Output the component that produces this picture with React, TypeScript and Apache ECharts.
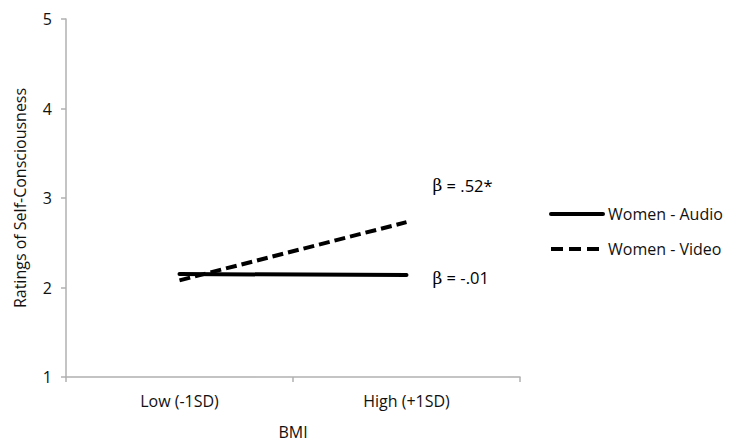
import React, { useEffect, useRef } from "react";
import * as echarts from "echarts";

const categories = ["Low (-1SD)", "High (+1SD)"];
const audioValues = [2.15, 2.14];
const videoValues = [2.08, 2.73];
const seriesNames = ["Women - Audio", "Women - Video"];
const betaLabels = [" = -.01", " = .52*"];
const yTicks = { min: 1, max: 5, interval: 1 };

const FONT = "'Open Sans', sans-serif";

export default function App() {
  const ref = useRef<HTMLDivElement>(null);
  useEffect(() => {
    if (!ref.current) return;
    const chart = echarts.init(ref.current, null, { renderer: "svg" });
    const betaRich = {
      b: { fontFamily: "'DejaVu Serif', serif", fontSize: 17, color: "#000" },
      t: { fontFamily: FONT, fontSize: 16.5, color: "#000" },
    };
    const hiddenSymbol = { color: "rgba(0,0,0,0)", borderWidth: 0, borderColor: "rgba(0,0,0,0)" };
    chart.setOption({
      animation: false,
      backgroundColor: "#fff",
      grid: { left: 66, right: 211, top: 19, bottom: 68, containLabel: false },
      legend: {
        orient: "vertical",
        left: 544,
        top: 201,
        itemWidth: 52,
        itemHeight: 14,
        itemGap: 19,
        textStyle: { fontFamily: FONT, fontSize: 16, color: "#111" },
        itemStyle: hiddenSymbol,
        data: [
          {
            name: seriesNames[0],
            itemStyle: hiddenSymbol,
            lineStyle: { color: "#000", width: 4, type: "solid" },
          },
          {
            name: seriesNames[1],
            itemStyle: hiddenSymbol,
            lineStyle: { color: "#000", width: 4, type: [12, 6] },
          },
        ],
      },
      xAxis: {
        type: "category",
        data: categories,
        boundaryGap: true,
        name: "BMI",
        nameLocation: "middle",
        nameGap: 47,
        nameTextStyle: { fontFamily: FONT, fontSize: 16, color: "#111" },
        axisLine: { lineStyle: { color: "#b0b0b0", width: 1.5 } },
        axisTick: { show: true, length: 5, lineStyle: { color: "#b0b0b0", width: 1.5 } },
        axisLabel: { fontFamily: FONT, fontSize: 16, color: "#111", margin: 16 },
        splitLine: { show: false },
      },
      yAxis: {
        type: "value",
        min: yTicks.min,
        max: yTicks.max,
        interval: yTicks.interval,
        name: "Ratings of Self-Consciousness",
        nameLocation: "middle",
        nameGap: 38,
        nameTextStyle: { fontFamily: FONT, fontSize: 16, color: "#111" },
        axisLine: { show: true, lineStyle: { color: "#b0b0b0", width: 1.5 } },
        axisTick: { show: true, length: 5, lineStyle: { color: "#b0b0b0", width: 1.5 } },
        axisLabel: { fontFamily: FONT, fontSize: 16, color: "#111", margin: 14 },
        splitLine: { show: false },
      },
      series: [
        {
          name: seriesNames[0],
          type: "line",
          data: audioValues,
          symbol: "none",
          lineStyle: { color: "#000", width: 4, cap: "round" },
          itemStyle: { color: "#000" },
          endLabel: {
            show: true,
            distance: 0,
            offset: [26, 3],
            formatter: () => "{b|β}{t|" + betaLabels[0] + "}",
            rich: betaRich,
          },
        },
        {
          name: seriesNames[1],
          type: "line",
          data: videoValues,
          symbol: "none",
          lineStyle: { color: "#000", width: 4, type: [11, 5], cap: "butt" },
          itemStyle: { color: "#000" },
          endLabel: {
            show: true,
            distance: 0,
            offset: [26, -37],
            formatter: () => "{b|β}{t|" + betaLabels[1] + "}",
            rich: betaRich,
          },
        },
      ],
    });
    return () => chart.dispose();
  }, []);
  return (
    <div
      ref={ref}
      style={{ position: "fixed", left: 0, top: 0, width: 731, height: 445, background: "#fff" }}
    />
  );
}
